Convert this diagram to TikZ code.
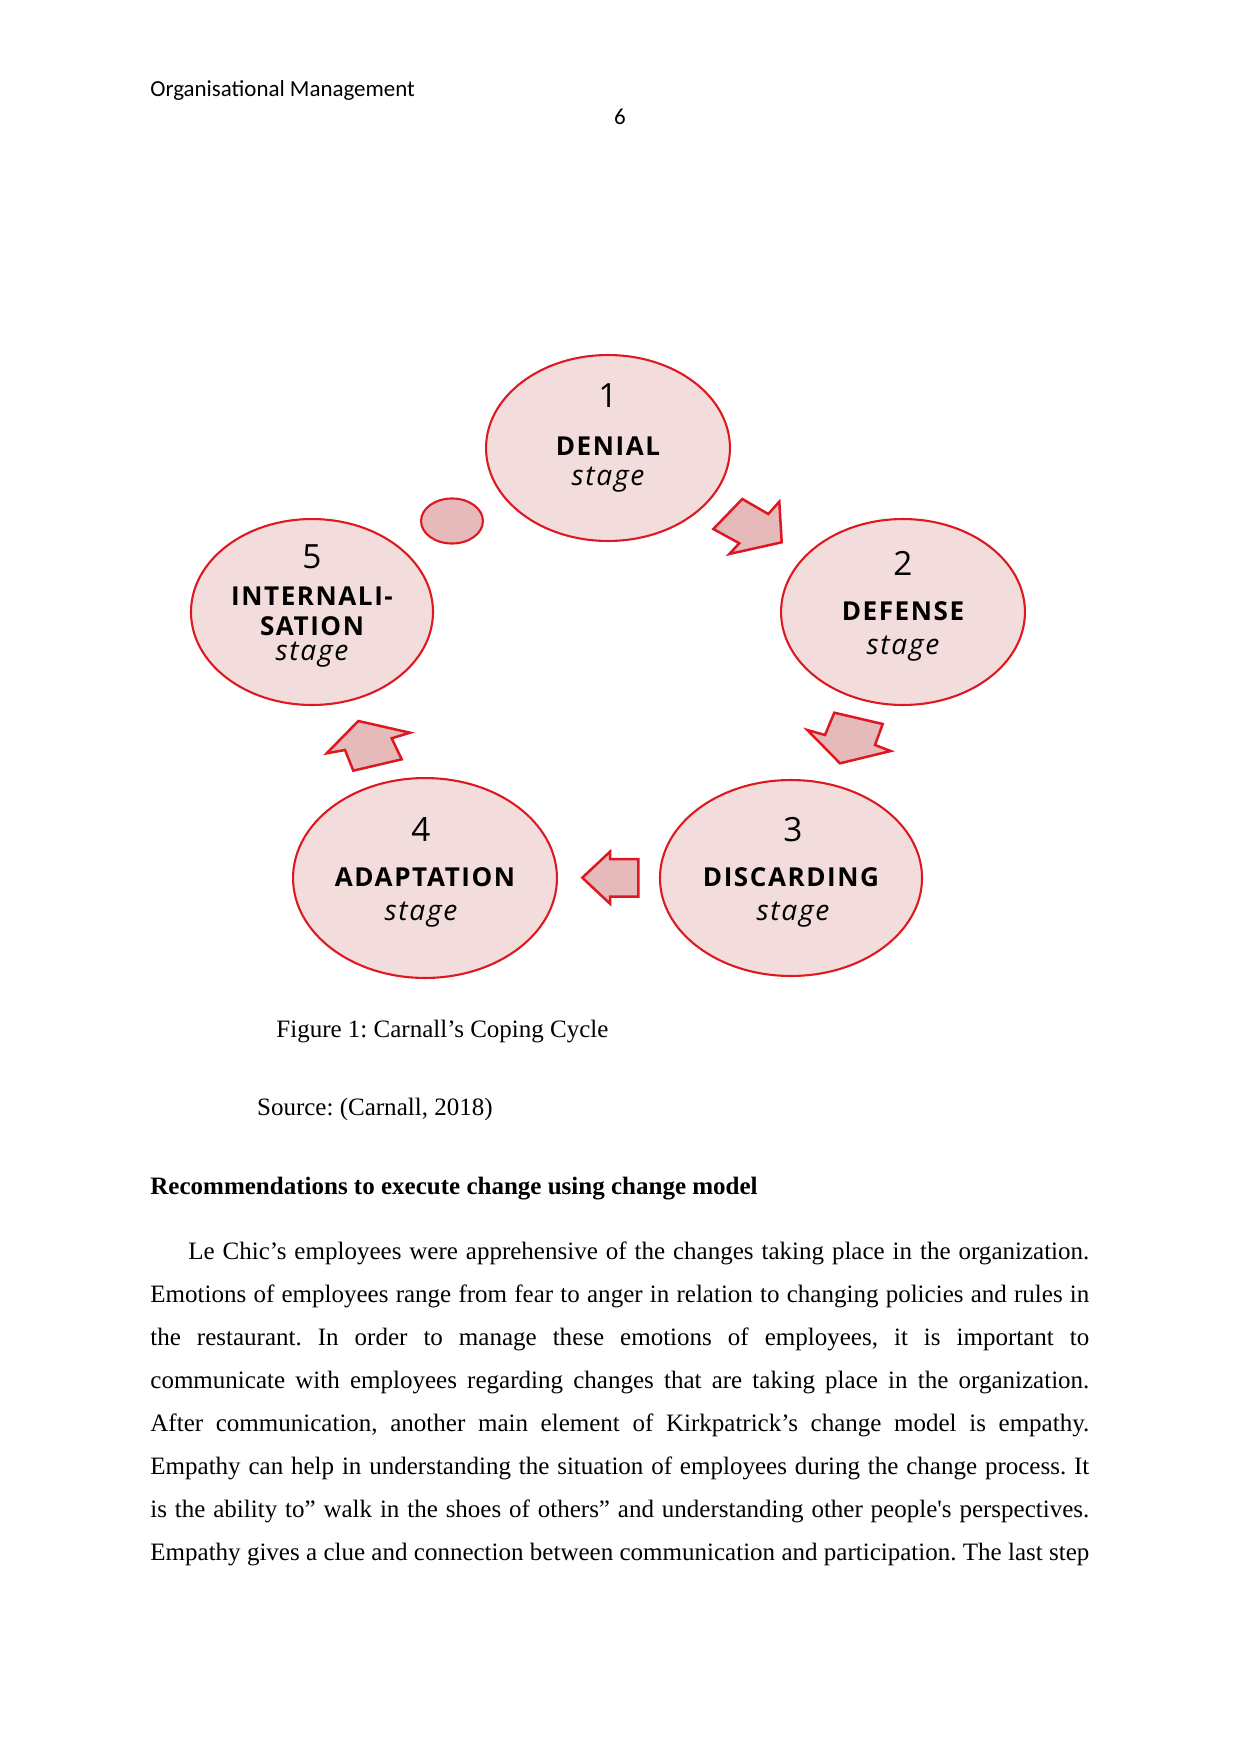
\documentclass[tikz,border=0pt]{standalone}
\usepackage{fontspec}
\setmainfont{Liberation Serif}
\newfontfamily\hdrfont{Carlito}
\newfontfamily\numfont{Open Sans}
\newfontfamily\capfont[LetterSpace=6]{Open Sans}
\usetikzlibrary{shapes.geometric}
\definecolor{stagered}{RGB}{222,24,32}
\definecolor{stagefill}{RGB}{242,220,220}
\definecolor{flowfill}{RGB}{230,185,186}
\frenchspacing

\begin{document}
\begin{tikzpicture}[x=0.4797pt,y=-0.4797pt,
  stagebox/.style={ellipse,draw=stagered,fill=stagefill,line width=1pt,inner sep=0pt},
  flow/.style={draw=stagered,fill=flowfill,line width=1.2pt,line join=miter},
  numtxt/.style={anchor=base,inner sep=0pt,font=\numfont\fontsize{16}{16}\selectfont},
  captxt/.style={anchor=base,inner sep=0pt,font=\capfont\bfseries\fontsize{12.5}{12.5}\selectfont},
  stgtxt/.style={anchor=base,inner sep=0pt,font=\capfont\itshape\fontsize{13.5}{13.5}\selectfont},
  txt/.style={anchor=base west,inner sep=0pt}]
\useasboundingbox (0,0) rectangle (1241,1754);
\fill[white] (0,0) rectangle (1241,1754);

% header
\node[txt,font=\hdrfont\fontsize{11}{13}\selectfont] (hdr) at (150,97) {Organisational Management};
\node[anchor=base,inner sep=0pt,font=\hdrfont\fontsize{11}{13}\selectfont] (pg) at (620,125) {6};

% the five stages
\node[stagebox,minimum width=117pt,minimum height=89.2pt] (e1) at (608,448) {};
\node[stagebox,minimum width=117pt,minimum height=89.2pt] (e2) at (903,612) {};
\node[stagebox,minimum width=125.7pt,minimum height=94pt] (e3) at (791,878) {};
\node[stagebox,minimum width=126.6pt,minimum height=95.9pt] (e4) at (425,878) {};
\node[stagebox,minimum width=116.1pt,minimum height=89.2pt] (e5) at (312,612) {};
\node[stagebox,fill=flowfill,minimum width=29.7pt,minimum height=21.6pt] (dot) at (452,521) {};

\node[numtxt] (n1) at (608,407) {1};
\node[captxt] (c1) at (608,455.5) {DENIAL};
\node[stgtxt] (s1) at (608,485) {stage};
\node[numtxt] (n2) at (903,575) {2};
\node[captxt] (c2) at (903,620.5) {DEFENSE};
\node[stgtxt] (s2) at (903,654) {stage};
\node[numtxt] (n3) at (793,841) {3};
\node[captxt] (c3) at (791,886.5) {DISCARDING};
\node[stgtxt] (s3) at (793,920) {stage};
\node[numtxt] (n4) at (421,841) {4};
\node[captxt] (c4) at (425,886.5) {ADAPTATION};
\node[stgtxt] (s4) at (421,920) {stage};
\node[numtxt] (n5) at (312,568) {5};
\node[captxt] (c5a) at (312,605.5) {INTERNALI-};
\node[captxt] (c5b) at (312,635.5) {SATION};
\node[stgtxt] (s5) at (312,660) {stage};

% block arrows
\draw[flow] (713.3,529)--(742.3,499)--(768.3,514)--(779.3,501.7)--(781.7,542.3)--(729.3,554)--(739.3,543.3)--cycle;
\draw[flow] (834.3,712.7)--(882.7,724)--(875,745)--(890.7,751)--(840,763.3)--(807.3,730)--(825,735)--cycle;
\draw[flow] (582.3,877.7)--(610,851.7)--(610,859)--(638.3,859)--(638.3,896.7)--(610,896.7)--(610,903.7)--cycle;
\draw[flow] (326.7,753.3)--(358.3,721)--(410,732.7)--(391.7,738.3)--(401.7,759.3)--(353.3,770.7)--(345,750)--cycle;

% caption and text
\node[txt,font=\fontsize{12}{14}\selectfont] (fig) at (276,1037.5) {Figure 1: Carnall’s Coping Cycle};
\node[txt,font=\fontsize{12}{14}\selectfont] (src) at (256.7,1115) {Source: (Carnall, 2018)};
\node[txt,font=\fontsize{12}{14}\selectfont\bfseries] (head) at (150,1194) {Recommendations to execute change using change model};
\node[txt,font=\fontsize{12}{20.63}\selectfont] (para) at (150,1259) {\vtop{\hsize=450.4pt\baselineskip=20.63pt
\hbox to\hsize{\hspace*{18.2pt}Le Chic’s employees were apprehensive of the changes taking place in the organization.}
\hbox to\hsize{Emotions of employees range from fear to anger in relation to changing policies and rules in}
\hbox to\hsize{the restaurant. In order to manage these emotions of employees, it is important to}
\hbox to\hsize{communicate with employees regarding changes that are taking place in the organization.}
\hbox to\hsize{After communication, another main element of Kirkpatrick’s change model is empathy.}
\hbox to\hsize{Empathy can help in understanding the situation of employees during the change process. It}
\hbox to\hsize{is the ability to” walk in the shoes of others” and understanding other people\textquotesingle s perspectives.}
\hbox to\hsize{Empathy gives a clue and connection between communication and participation. The last step}}};
\end{tikzpicture}
\end{document}
